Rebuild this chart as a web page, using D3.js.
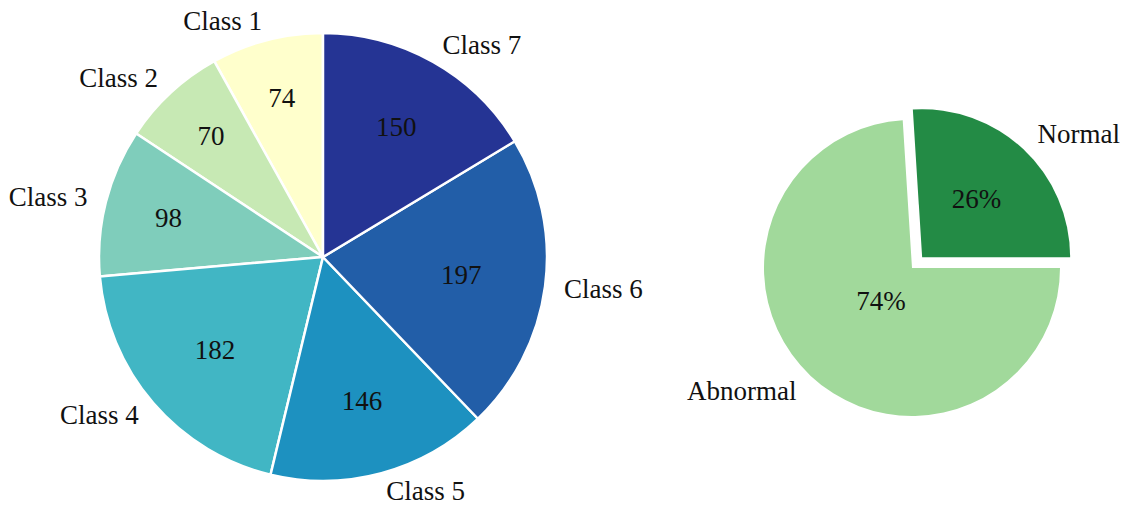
<!DOCTYPE html>
<html>
<head>
<meta charset="utf-8">
<script src="https://cdn.jsdelivr.net/npm/d3@7"></script>
<style>
  html, body { margin: 0; padding: 0; background: #fff; }
  svg text { font-family: "Liberation Serif", "DejaVu Serif", serif; fill: #111; }
</style>
</head>
<body>
<svg id="chart" width="1123" height="507"></svg>
<script>
// Per-class sample counts
const classLabels = ["Class 1", "Class 2", "Class 3", "Class 4", "Class 5", "Class 6", "Class 7"];
const classCounts = [74, 70, 98, 182, 146, 197, 150];
const classColors = ["#ffffcc", "#c7e9b4", "#7fcdbb", "#41b6c4", "#1d91c0", "#225ea8", "#253494"];

// Normal vs abnormal share (percent)
const groupLabels = ["Normal", "Abnormal"];
const groupShares = [26, 74];
const groupColors = ["#238b45", "#a1d99b"];
const groupExplode = [0.1, 0];

const svg = d3.select("#chart");
const FONT = 27;

function drawPie(opts) {
  const { cx, cy, r, labels, values, colors, start, explode, stroke,
          labelDist, valueText, innerBase, innerSlope } = opts;

  const pie = d3.pie().sort(null).value(d => d)
    .startAngle(start).endAngle(start - 2 * Math.PI);  // counter-clockwise
  const arcs = pie(values);
  const arc = d3.arc().innerRadius(0).outerRadius(r);

  const g = svg.append("g").attr("transform", `translate(${cx},${cy})`);

  const slice = g.selectAll("g.slice").data(arcs).join("g")
    .attr("class", "slice")
    .attr("transform", (d, i) => {
      const a = (d.startAngle + d.endAngle) / 2;
      const off = (explode ? explode[i] : 0) * r;
      return `translate(${Math.sin(a) * off},${-Math.cos(a) * off})`;
    });

  slice.append("path")
    .attr("d", arc)
    .attr("fill", (d, i) => colors[i])
    .attr("stroke", stroke ? "#fff" : "none")
    .attr("stroke-width", stroke ? 2.5 : 0)
    .attr("stroke-linejoin", "round");

  // value text inside the wedge; narrow wedges push it further out
  slice.append("text")
    .attr("text-anchor", "middle")
    .attr("dy", "0.33em")
    .attr("font-size", FONT)
    .attr("transform", d => {
      const a = (d.startAngle + d.endAngle) / 2;
      const span = Math.abs(d.endAngle - d.startAngle) * 180 / Math.PI;
      const rr = r * (innerBase - innerSlope * span);
      return `translate(${Math.sin(a) * rr},${-Math.cos(a) * rr})`;
    })
    .text(d => valueText(d.data));

  // category names outside the rim
  slice.append("text")
    .attr("dy", "0.32em")
    .attr("font-size", FONT)
    .attr("text-anchor", d => {
      const a = (d.startAngle + d.endAngle) / 2;
      return Math.sin(a) >= 0 ? "start" : "end";
    })
    .attr("x", d => Math.sin((d.startAngle + d.endAngle) / 2) * r * labelDist)
    .attr("y", d => -Math.cos((d.startAngle + d.endAngle) / 2) * r * labelDist)
    .text((d, i) => labels[i]);
}

drawPie({
  cx: 323, cy: 257, r: 224,
  labels: classLabels, values: classCounts, colors: classColors,
  start: 0, explode: null, stroke: true,
  labelDist: 1.085, valueText: v => v,
  innerBase: 0.80, innerSlope: 0.0023
});

drawPie({
  cx: 912, cy: 268, r: 148,
  labels: groupLabels, values: groupShares, colors: groupColors,
  start: Math.PI / 2, explode: groupExplode, stroke: false,
  labelDist: 1.14, valueText: v => v + "%",
  innerBase: 0.66, innerSlope: 0.00133
});
</script>
</body>
</html>
